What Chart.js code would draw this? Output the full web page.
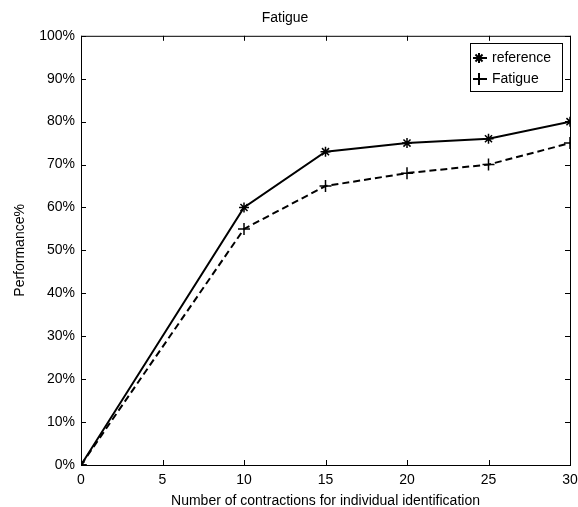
<!DOCTYPE html>
<html>
<head>
<meta charset="utf-8">
<script src="https://cdn.jsdelivr.net/npm/chart.js@4.4.1/dist/chart.umd.min.js"></script>
<style>
  html, body { margin: 0; padding: 0; background: #fff; }
  #wrap { width: 578px; height: 507px; }
</style>
</head>
<body>
<div id="wrap"><canvas id="fatigueChart" width="578" height="507"></canvas></div>
<script>
const contractions = [0, 10, 15, 20, 25, 30];
const referenceVals = [0, 60, 73, 75, 76, 80];
const fatigueVals = [0, 55, 65, 68, 70, 75];
const seriesNames = ['reference', 'Fatigue'];
const yTicks = [0, 10, 20, 30, 40, 50, 60, 70, 80, 90, 100];
const xTicks = [0, 5, 10, 15, 20, 25, 30];

const FONT = 'Liberation Sans, Arial, sans-serif';

// MATLAB style box with inward ticks + legend box
const matlabBox = {
  id: 'matlabBox',
  afterDraw(chart) {
    const { ctx, chartArea: a, scales } = chart;
    ctx.save();
    ctx.strokeStyle = '#000';
    ctx.lineWidth = 1;
    ctx.strokeRect(a.left + 0.5, a.top + 0.5, a.right - a.left, a.bottom - a.top);
    ctx.beginPath();
    xTicks.forEach(v => {
      const x = Math.round(scales.x.getPixelForValue(v)) + 0.5;
      ctx.moveTo(x, a.bottom); ctx.lineTo(x, a.bottom - 5);
      ctx.moveTo(x, a.top); ctx.lineTo(x, a.top + 5);
    });
    yTicks.forEach(v => {
      const y = Math.round(scales.y.getPixelForValue(v)) + 0.5;
      ctx.moveTo(a.left, y); ctx.lineTo(a.left + 5, y);
      ctx.moveTo(a.right, y); ctx.lineTo(a.right - 5, y);
    });
    ctx.stroke();

    // legend
    const bx = 470, by = 43, bw = 92, bh = 48;
    ctx.fillStyle = '#fff';
    ctx.fillRect(bx, by, bw, bh);
    ctx.strokeRect(bx + 0.5, by + 0.5, bw, bh);
    chart.data.datasets.forEach((ds, i) => {
      const y = by + 15 + i * 21;
      ctx.beginPath();
      ctx.lineWidth = 2;
      ctx.setLineDash(ds.borderDash || []);
      ctx.moveTo(bx + 3, y); ctx.lineTo(bx + 17, y);
      ctx.stroke();
      ctx.setLineDash([]);
      Chart.helpers.drawPoint(ctx, {
        pointStyle: ds.pointStyle, radius: ds.pointRadius, rotation: 0, borderWidth: 1.5
      }, bx + 9, y);
      ctx.fillStyle = '#000';
      ctx.font = '14px ' + FONT;
      ctx.textBaseline = 'middle';
      ctx.fillText(ds.label, bx + 22, y);
    });
    ctx.restore();
  }
};

new Chart(document.getElementById('fatigueChart'), {
  type: 'line',
  data: {
    datasets: [
      {
        label: seriesNames[0],
        data: contractions.map((x, i) => ({ x, y: referenceVals[i] })),
        borderColor: '#000',
        backgroundColor: '#000',
        borderWidth: 2,
        pointStyle: 'star',
        pointRadius: 5,
        pointBorderWidth: 1.5,
        tension: 0
      },
      {
        label: seriesNames[1],
        data: contractions.map((x, i) => ({ x, y: fatigueVals[i] })),
        borderColor: '#000',
        backgroundColor: '#000',
        borderWidth: 2,
        borderDash: [7, 4],
        pointStyle: 'cross',
        pointRadius: 6,
        pointBorderWidth: 1.5,
        tension: 0
      }
    ]
  },
  options: {
    responsive: false,
    animation: false,
    layout: { padding: { left: 0, right: 8, top: 0, bottom: 0 } },
    plugins: {
      legend: { display: false },
      tooltip: { enabled: false },
      title: {
        display: true,
        text: 'Fatigue',
        color: '#000',
        font: { family: FONT, size: 14, weight: 'normal' },
        padding: { top: 10, bottom: 9 }
      }
    },
    scales: {
      x: {
        type: 'linear',
        min: 0, max: 30,
        afterBuildTicks: s => { s.ticks = xTicks.map(v => ({ value: v })); },
        grid: { display: false, drawTicks: false },
        border: { display: false },
        ticks: { color: '#000', font: { family: FONT, size: 14 }, padding: 7, maxRotation: 0 },
        afterFit: s => { s.height = 42; s.paddingRight = 0; s.paddingLeft = 0; },
        title: {
          display: true,
          text: 'Number of contractions for individual identification',
          color: '#000',
          font: { family: FONT, size: 14 },
          padding: { top: 0, bottom: -3 }
        }
      },
      y: {
        min: 0, max: 100,
        afterBuildTicks: s => { s.ticks = yTicks.map(v => ({ value: v })); },
        grid: { display: false, drawTicks: false },
        border: { display: false },
        ticks: { color: '#000', font: { family: FONT, size: 14 }, padding: 6, callback: v => v + '%' },
        afterFit: s => { s.width = 81; },
        title: {
          display: true,
          text: 'Performance%',
          color: '#000',
          font: { family: FONT, size: 14 },
          padding: { top: 12, bottom: 0 }
        }
      }
    }
  },
  plugins: [matlabBox]
});
</script>
</body>
</html>
